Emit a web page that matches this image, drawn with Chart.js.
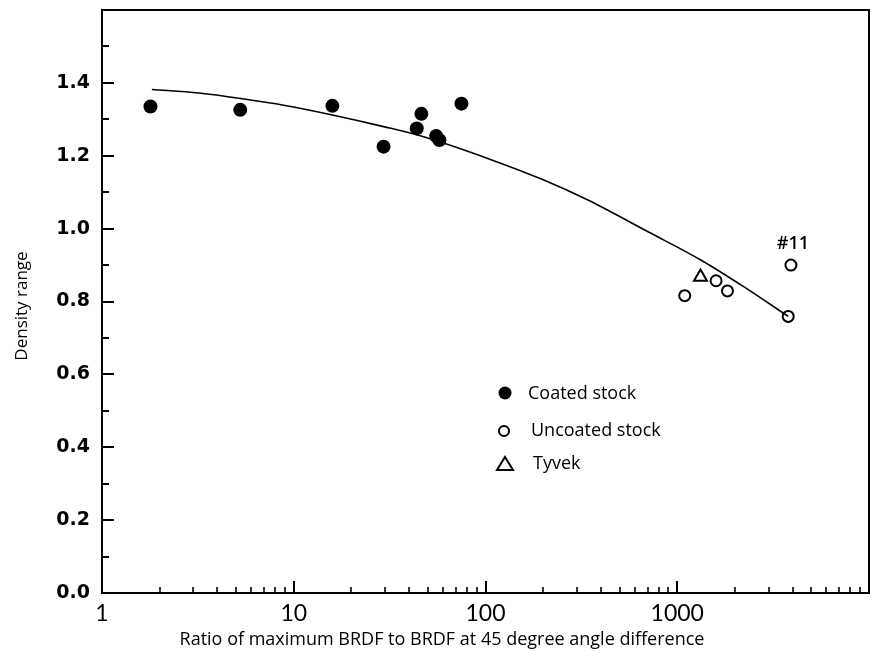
<!DOCTYPE html>
<html>
<head>
<meta charset="utf-8">
<script src="https://cdn.jsdelivr.net/npm/chart.js@4.4.1/dist/chart.umd.min.js"></script>
<style>
html,body{margin:0;padding:0;background:#fff;}
#wrap{width:871px;height:653px;position:relative;}
</style>
</head>
<body>
<div id="wrap"><canvas id="c" width="871" height="653"></canvas></div>
<script>
// ---- data ----
const seriesNames = ['Coated stock', 'Uncoated stock', 'Tyvek'];
const coatedX = [1.79, 5.26, 15.9, 29.4, 43.8, 46.3, 55.3, 57.5, 74.9];
const coatedY = [1.335, 1.326, 1.337, 1.225, 1.275, 1.315, 1.254, 1.243, 1.343];
const uncoatedX = [1094, 1594, 1828, 3916, 3790];
const uncoatedY = [0.816, 0.857, 0.829, 0.900, 0.759];
const tyvekX = [1322];
const tyvekY = [0.867];
const fitX = [1.82, 3.2, 5.3, 9, 15.9, 29.4, 47.6, 106, 200, 340, 700, 1327, 2200, 3790];
const fitY = [1.382, 1.372, 1.357, 1.338, 1.312, 1.280, 1.252, 1.190, 1.134, 1.079, 0.992, 0.914, 0.842, 0.759];
const pointLabel = '#11';
const pointLabelIndex = 3; // index in uncoated series
const xTickValues = [1, 10, 100, 1000];
const xTickLabels = ['1', '10', '100', '1000'];
const yTickValues = [0, 0.2, 0.4, 0.6, 0.8, 1.0, 1.2, 1.4];
const yTickLabels = ['0.0', '0.2', '0.4', '0.6', '0.8', '1.0', '1.2', '1.4'];
const yMinorTicks = [0.1, 0.3, 0.5, 0.7, 0.9, 1.1, 1.3, 1.5];
const xTitle = 'Ratio of maximum BRDF to BRDF at 45 degree angle difference';
const yTitle = 'Density range';

const toPts = (xs, ys) => xs.map((v, i) => ({x: v, y: ys[i]}));

const xMinorTicks = [];
[1, 10, 100, 1000].forEach(d => { for (let m = 2; m <= 9; m++) xMinorTicks.push(d * m); });

function line(ctx, x1, y1, x2, y2) { ctx.beginPath(); ctx.moveTo(x1, y1); ctx.lineTo(x2, y2); ctx.stroke(); }

const decor = {
  id: 'decor',
  afterDatasetsDraw(chart) {
    const {ctx, chartArea: a, scales: {x, y}} = chart;
    ctx.save();
    ctx.strokeStyle = '#000';
    ctx.fillStyle = '#000';
    // inward ticks
    ctx.lineWidth = 2;
    yTickValues.forEach(v => { const p = Math.round(y.getPixelForValue(v)); line(ctx, a.left, p, a.left + 12, p); });
    yMinorTicks.forEach(v => { const p = Math.round(y.getPixelForValue(v)); line(ctx, a.left, p, a.left + 7, p); });
    xTickValues.forEach(v => { const p = Math.round(x.getPixelForValue(v)); line(ctx, p, a.bottom, p, a.bottom - 12); });
    ctx.lineWidth = 1.6;
    xMinorTicks.forEach(v => { const p = Math.round(x.getPixelForValue(v)); line(ctx, p, a.bottom, p, a.bottom - 6); });
    // frame
    ctx.lineWidth = 2;
    ctx.strokeRect(a.left, a.top, a.right - a.left, a.bottom - a.top);
    // axis titles
    ctx.font = '18px "Open Sans"';
    ctx.textAlign = 'center';
    ctx.textBaseline = 'middle';
    ctx.fillText(xTitle, 442, 640);
    ctx.font = '17px "Open Sans"';
    ctx.save();
    ctx.translate(22, 306);
    ctx.rotate(-Math.PI / 2);
    ctx.fillText(yTitle, 0, 0);
    ctx.restore();
    // annotation
    const px = x.getPixelForValue(uncoatedX[pointLabelIndex]);
    const py = y.getPixelForValue(uncoatedY[pointLabelIndex]);
    ctx.font = '600 18px "Open Sans"';
    ctx.fillText(pointLabel, px + 2, py - 21);
    // legend
    ctx.textAlign = 'left';
    ctx.font = '18px "Open Sans"';
    ctx.beginPath(); ctx.arc(505, 393, 6.5, 0, Math.PI * 2); ctx.fill();
    ctx.fillText(seriesNames[0], 528, 394);
    ctx.lineWidth = 2;
    ctx.beginPath(); ctx.arc(504, 431, 5, 0, Math.PI * 2); ctx.stroke();
    ctx.fillText(seriesNames[1], 531, 431);
    ctx.beginPath();
    ctx.moveTo(505, 457); ctx.lineTo(513, 470); ctx.lineTo(497, 470); ctx.closePath(); ctx.stroke();
    ctx.fillText(seriesNames[2], 533, 464);
    ctx.restore();
  }
};

Chart.defaults.color = '#000';

new Chart(document.getElementById('c'), {
  type: 'scatter',
  data: {
    datasets: [
      {
        label: seriesNames[0], data: toPts(coatedX, coatedY),
        pointStyle: 'circle', pointRadius: 7, backgroundColor: '#000', borderColor: '#000', borderWidth: 0
      },
      {
        label: seriesNames[1], data: toPts(uncoatedX, uncoatedY),
        pointStyle: 'circle', pointRadius: 5.5, backgroundColor: 'rgba(0,0,0,0)', borderColor: '#000', borderWidth: 2
      },
      {
        label: seriesNames[2], data: toPts(tyvekX, tyvekY),
        pointStyle: 'triangle', pointRadius: 7.5, backgroundColor: 'rgba(0,0,0,0)', borderColor: '#000', borderWidth: 2
      },
      {
        label: 'fit', data: toPts(fitX, fitY), showLine: true, pointRadius: 0,
        borderColor: '#000', borderWidth: 1.6, tension: 0.4, cubicInterpolationMode: 'monotone', fill: false
      }
    ]
  },
  options: {
    responsive: false,
    animation: false,
    devicePixelRatio: 1,
    layout: {autoPadding: false, padding: {top: 10, right: 2, left: 0, bottom: 0}},
    plugins: {legend: {display: false}, tooltip: {enabled: false}},
    scales: {
      x: {
        type: 'logarithmic', min: 1, max: 10000,
        grid: {display: false, drawTicks: false},
        border: {display: false},
        afterBuildTicks: s => { s.ticks = xTickValues.map(v => ({value: v})); },
        afterFit: s => { s.height = 60; s.paddingLeft = 0; s.paddingRight = 0; },
        ticks: {
          autoSkip: false, maxRotation: 0, padding: 7,
          font: {family: 'Lato', size: 23},
          callback: (v, i) => xTickLabels[i]
        }
      },
      y: {
        type: 'linear', min: 0, max: 1.6,
        grid: {display: false, drawTicks: false},
        border: {display: false},
        afterBuildTicks: s => { s.ticks = yTickValues.map(v => ({value: v})); },
        afterFit: s => { s.width = 102; s.paddingTop = 0; s.paddingBottom = 0; },
        ticks: {
          padding: 12,
          font: {family: 'DejaVu Sans', size: 19, weight: 'bold'},
          callback: (v, i) => yTickLabels[i]
        }
      }
    }
  },
  plugins: [decor]
});
</script>
</body>
</html>
